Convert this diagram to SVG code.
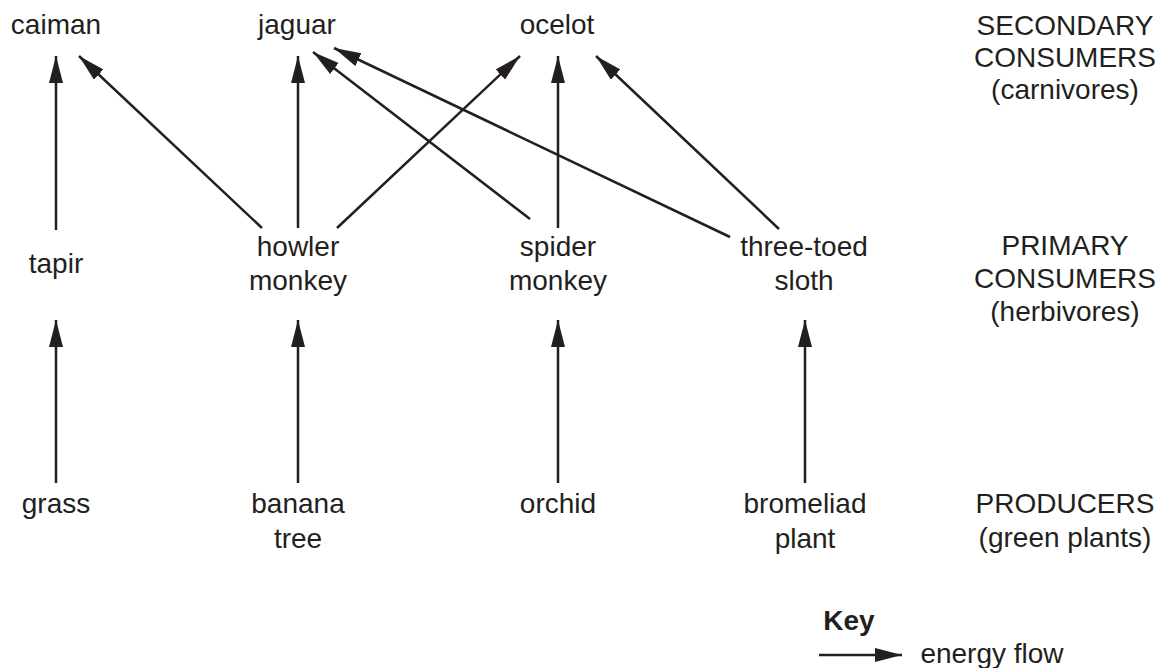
<svg xmlns="http://www.w3.org/2000/svg" width="1171" height="668" viewBox="0 0 1171 668">
<style>
text{font-family:"Liberation Sans",Arial,sans-serif;font-size:28px;fill:#231f20;text-anchor:middle}
.b{font-weight:bold}
.c line{stroke:#231f20;stroke-width:2.5;marker-end:url(#ah)}
</style>
<defs>
<marker id="ah" markerUnits="userSpaceOnUse" markerWidth="28" markerHeight="16" refX="27" refY="7" orient="auto">
<path d="M0,0 L27,7 L0,14 z" fill="#231f20"/>
</marker>
</defs>
<rect width="1171" height="668" fill="#fff"/>
<g id="caiman"><text x="56" y="34">caiman</text></g>
<g id="jaguar"><text x="297" y="34">jaguar</text></g>
<g id="ocelot"><text x="557" y="34">ocelot</text></g>
<g id="tapir"><text x="56" y="273">tapir</text></g>
<g id="howler"><text x="298" y="256">howler</text><text x="298" y="290">monkey</text></g>
<g id="spider"><text x="558" y="256">spider</text><text x="558" y="290">monkey</text></g>
<g id="sloth"><text x="804" y="256">three-toed</text><text x="804" y="290">sloth</text></g>
<g id="grass"><text x="56" y="513">grass</text></g>
<g id="banana"><text x="298" y="513">banana</text><text x="298" y="548">tree</text></g>
<g id="orchid"><text x="558" y="513">orchid</text></g>
<g id="bromeliad"><text x="805" y="513">bromeliad</text><text x="805" y="548">plant</text></g>
<g id="level-secondary"><text x="1065" y="35">SECONDARY</text><text x="1065" y="67">CONSUMERS</text><text x="1065" y="99">(carnivores)</text></g>
<g id="level-primary"><text x="1065" y="255">PRIMARY</text><text x="1065" y="288">CONSUMERS</text><text x="1065" y="321">(herbivores)</text></g>
<g id="level-producers"><text x="1065" y="513">PRODUCERS</text><text x="1065" y="547">(green plants)</text></g>
<g id="key"><text class="b" x="849" y="630">Key</text><text x="992" y="663">energy flow</text></g>
<g class="c" id="connectors">
<line x1="56" y1="230" x2="56" y2="56"/>
<line x1="262" y1="228" x2="79" y2="56"/>
<line x1="298" y1="228" x2="298" y2="56"/>
<line x1="337" y1="228" x2="520" y2="56"/>
<line x1="530" y1="219" x2="313" y2="52"/>
<line x1="558" y1="228" x2="558" y2="56"/>
<line x1="730" y1="237" x2="334" y2="48"/>
<line x1="779" y1="229" x2="596" y2="56"/>
<line x1="56" y1="483" x2="56" y2="320"/>
<line x1="298" y1="483" x2="298" y2="320"/>
<line x1="558" y1="483" x2="558" y2="320"/>
<line x1="805" y1="483" x2="805" y2="320"/>
<line x1="819" y1="655" x2="902" y2="655"/>
</g>
</svg>
